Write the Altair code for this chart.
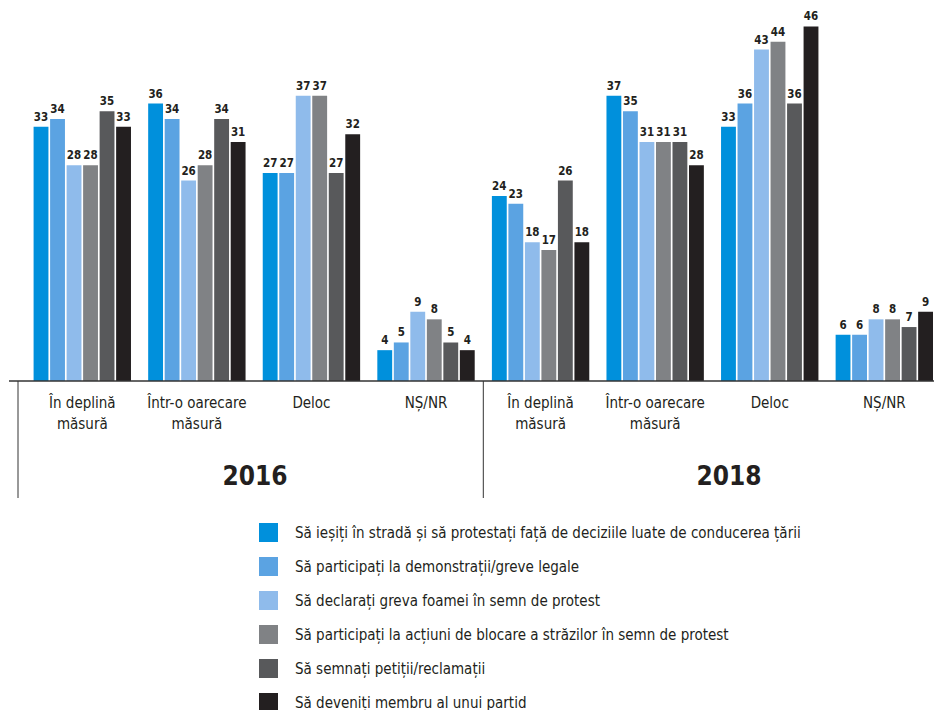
import altair as alt
import pandas as pd

years = ["2016", "2018"]
categories = ["În deplină măsură", "Într-o oarecare măsură", "Deloc", "NȘ/NR"]
series = [
    "Să ieșiți în stradă și să protestați față de deciziile luate de conducerea țării",
    "Să participați la demonstrații/greve legale",
    "Să declarați greva foamei în semn de protest",
    "Să participați la acțiuni de blocare a străzilor în semn de protest",
    "Să semnați petiții/reclamații",
    "Să deveniți membru al unui partid",
]
colors = ["#0090DC", "#5BA3E2", "#8FBBEB", "#808285", "#58595B", "#231F20"]

# values per series, in category order
values_2016 = [
    [33, 36, 27, 4],
    [34, 34, 27, 5],
    [28, 26, 37, 9],
    [28, 28, 37, 8],
    [35, 34, 27, 5],
    [33, 31, 32, 4],
]
values_2018 = [
    [24, 37, 33, 6],
    [23, 35, 36, 6],
    [18, 31, 43, 8],
    [17, 31, 44, 8],
    [26, 31, 36, 7],
    [18, 28, 46, 9],
]

rows = []
for year, vals in (("2016", values_2016), ("2018", values_2018)):
    for si, s in enumerate(series):
        for ci, c in enumerate(categories):
            rows.append({"key": f"{year}|{c}", "year": year, "cat": c,
                         "series": s, "value": vals[si][ci]})
df = pd.DataFrame(rows)
keys = [f"{y}|{c}" for y in years for c in categories]

# the plot area is 909 px wide (keeps the page free of overflow); the band
# layout spans 916.6 px so the last group ends where the reference's does
W, H = 909, 370
SPAN = 916.6
FONT = "DejaVu Sans Condensed, DejaVu Sans, sans-serif"
INK = "#231F20"

label_expr = ("split(replace(replace(slice(datum.label, 5), 'deplină ', 'deplină~'),"
              " 'oarecare ', 'oarecare~'), '~')")

x = alt.X(
    "key:N", sort=keys,
    scale=alt.Scale(domain=keys, range=[0, SPAN], paddingInner=0.15,
                    paddingOuter=0.075, round=False),
    axis=alt.Axis(title=None, labelExpr=label_expr, labelAngle=0, ticks=False,
                  domain=False, labelFontSize=15, labelColor=INK, labelPadding=14,
                  labelLineHeight=21, labelFont=FONT, labelBaseline="top"),
)
xoff = alt.XOffset("series:N", sort=series,
                   scale=alt.Scale(domain=series, paddingInner=0.1, round=False))
y = alt.Y("value:Q", scale=alt.Scale(domain=[0, 48]), axis=None)

bars = alt.Chart(df).mark_bar().encode(
    x=x, xOffset=xoff, y=y,
    color=alt.Color(
        "series:N", sort=series,
        scale=alt.Scale(domain=series, range=colors),
        legend=alt.Legend(title=None, orient="none", legendX=234, legendY=512,
                          symbolType="square", symbolSize=361, symbolStrokeWidth=0,
                          labelFontSize=15, labelFont=FONT, labelColor=INK,
                          rowPadding=15, labelOffset=17, direction="vertical",
                          padding=0, labelLimit=700),
    ),
)

labels = alt.Chart(df).mark_text(
    dy=-6, baseline="alphabetic", fontWeight="bold", fontSize=11.5, font=FONT, color=INK
).encode(x=x, xOffset=xoff, y=y, text="value:Q")

one = pd.DataFrame({"v": [0]})
baseline = alt.Chart(one).mark_rule(color="#333333", strokeWidth=1.3).encode(
    x=alt.value(-16), x2=alt.value(W), y=alt.value(H))
div_left = alt.Chart(one).mark_rule(color="#333333", strokeWidth=1).encode(
    x=alt.value(-7), y=alt.value(H), y2=alt.value(H + 117))
div_mid = alt.Chart(one).mark_rule(color="#333333", strokeWidth=1).encode(
    x=alt.value(SPAN / 2), y=alt.value(H), y2=alt.value(H + 117))

year_df = pd.DataFrame({"year": years})
y2016 = alt.Chart(year_df).transform_filter(alt.datum.year == "2016").mark_text(
    fontSize=26, fontWeight="bold", font=FONT, color=INK, baseline="middle"
).encode(text="year:N", x=alt.value(230), y=alt.value(H + 96))
y2018 = alt.Chart(year_df).transform_filter(alt.datum.year == "2018").mark_text(
    fontSize=26, fontWeight="bold", font=FONT, color=INK, baseline="middle"
).encode(text="year:N", x=alt.value(704), y=alt.value(H + 96))

chart = alt.layer(bars, labels, baseline, div_left, div_mid, y2016, y2018).properties(
    width=W, height=H,
    autosize=alt.AutoSizeParams(type="none"),
    padding={"left": 17, "top": 3, "right": 0, "bottom": 330},
).configure_view(stroke=None)

chart.save("out.html", embed_options={"renderer": "svg", "actions": False})
